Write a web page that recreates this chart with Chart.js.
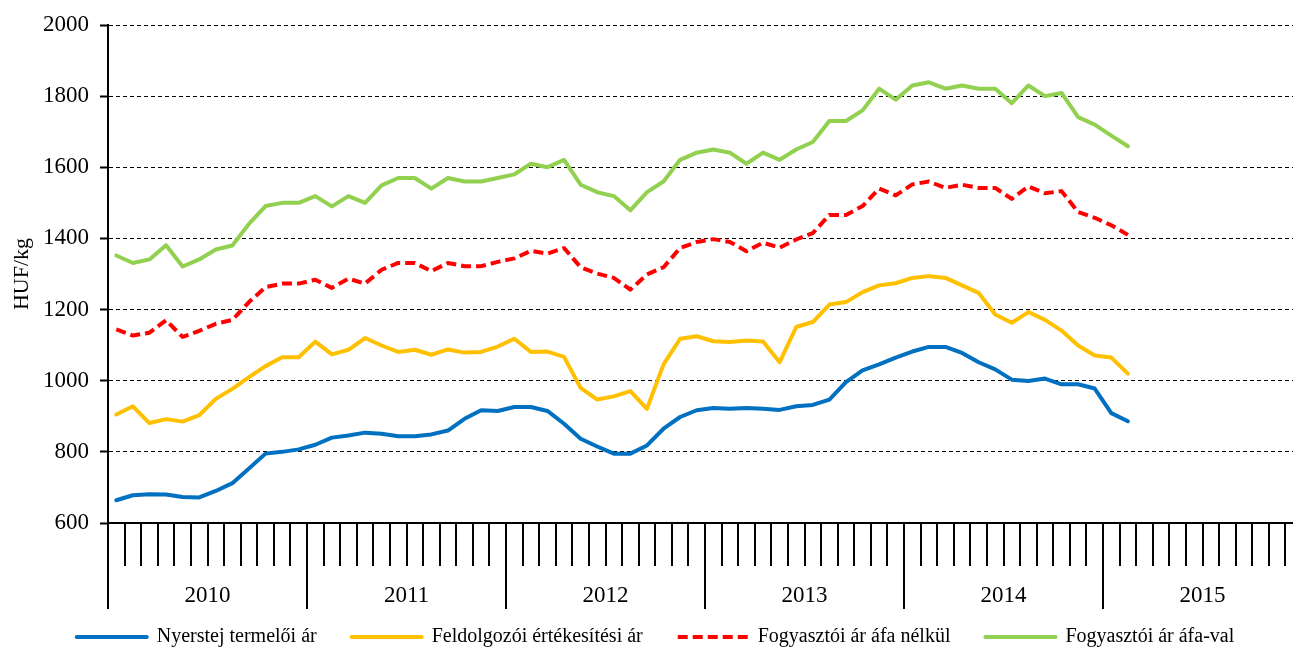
<!DOCTYPE html>
<html>
<head>
<meta charset="utf-8">
<script src="https://cdn.jsdelivr.net/npm/chart.js@4/dist/chart.umd.min.js"></script>
<style>
  html, body { margin: 0; padding: 0; overflow: hidden; background: #fff; }
  canvas { display: block; }
</style>
</head>
<body>
<canvas id="chart" width="1310" height="653"></canvas>
<script>
// Tej árak 2010–2015, havi adatok (HUF/kg)
const years = ['2010', '2011', '2012', '2013', '2014', '2015'];
const monthNames = ['jan', 'feb', 'márc', 'ápr', 'máj', 'jún', 'júl', 'aug', 'szept', 'okt', 'nov', 'dec'];
const months = years.flatMap(y => monthNames.map(m => y + ' ' + m));

const nyerstej = [664, 678, 681, 680, 673, 672, 690, 712, 753, 795, 800, 807,
  820, 840, 846, 854, 851, 844, 844, 849, 860, 893, 917, 915,
  926, 926, 915, 879, 837, 815, 795, 795, 818, 865, 898, 917,
  923, 921, 923, 921, 918, 928, 932, 947, 996, 1029, 1046, 1065,
  1082, 1095, 1095, 1078, 1052, 1032, 1003, 999, 1006, 990, 990, 978,
  909, 886];
const feldolgozoi = [905, 928, 881, 892, 885, 903, 949, 977, 1010, 1041, 1066, 1066,
  1110, 1074, 1087, 1120, 1099, 1081, 1087, 1073, 1088, 1079, 1081, 1096,
  1118, 1081, 1082, 1067, 980, 947, 956, 971, 921, 1046, 1118, 1125,
  1111, 1109, 1113, 1110, 1052, 1151, 1165, 1214, 1221, 1249, 1268, 1274,
  1289, 1294, 1289, 1268, 1247, 1186, 1163, 1193, 1171, 1141, 1099, 1071,
  1065, 1020];
const afaNelkul = [1144, 1127, 1135, 1170, 1123, 1140, 1160, 1171, 1221, 1263, 1273, 1273,
  1284, 1261, 1287, 1273, 1312, 1331, 1331, 1308, 1331, 1322, 1322, 1334,
  1344, 1365, 1357, 1373, 1319, 1301, 1289, 1256, 1299, 1319, 1373, 1390,
  1398, 1390, 1364, 1388, 1374, 1397, 1415, 1466, 1466, 1491, 1540, 1521,
  1552, 1560, 1542, 1551, 1542, 1542, 1511, 1546, 1527, 1533, 1474, 1458,
  1437, 1410];
const afaval = [1352, 1331, 1341, 1381, 1321, 1341, 1369, 1380, 1441, 1491, 1500, 1500,
  1519, 1490, 1519, 1500, 1549, 1570, 1570, 1540, 1570, 1560, 1560, 1570,
  1580, 1610, 1600, 1621, 1551, 1530, 1519, 1479, 1530, 1560, 1621, 1641,
  1650, 1641, 1610, 1641, 1621, 1650, 1671, 1730, 1730, 1760, 1821, 1790,
  1830, 1839, 1821, 1830, 1821, 1821, 1780, 1830, 1800, 1809, 1741, 1720,
  1689, 1659];

const FONT = "'Liberation Serif', 'Times New Roman', serif";

function vonal(label, data, color, dash) {
  return {
    label, data,
    borderColor: color, backgroundColor: color,
    borderWidth: 4, pointRadius: 0, tension: 0,
    borderDash: dash || [],
    borderCapStyle: dash ? 'butt' : 'round',
    borderJoinStyle: 'round'
  };
}

new Chart(document.getElementById('chart'), {
  type: 'line',
  data: {
    labels: months,
    datasets: [
      vonal('Nyerstej termelői ár', nyerstej, '#0070C0'),
      vonal('Feldolgozói értékesítési ár', feldolgozoi, '#FFC000'),
      vonal('Fogyasztói ár áfa nélkül', afaNelkul, '#FF0000', [10, 5]),
      vonal('Fogyasztói ár áfa-val', afaval, '#92D050')
    ]
  },
  options: {
    responsive: false,
    animation: false,
    layout: { padding: { left: 9, right: 8, top: 25, bottom: 0 } },
    plugins: {
      tooltip: { enabled: false },
      legend: {
        position: 'bottom',
        maxHeight: 61,
        labels: {
          usePointStyle: true,
          pointStyleWidth: 70,
          padding: 35,
          color: '#000',
          font: { family: FONT, size: 20 },
          generateLabels: (chart) => chart.data.datasets.map((ds, i) => ({
            text: ds.label,
            strokeStyle: ds.borderColor,
            fillStyle: ds.borderColor,
            lineWidth: 4,
            lineDash: ds.borderDash,
            lineCap: ds.borderDash.length ? 'butt' : 'round',
            pointStyle: 'line',
            fontColor: '#000',
            hidden: false,
            datasetIndex: i
          }))
        }
      }
    },
    scales: {
      x: {
        type: 'category',
        position: 'bottom',
        weight: 0,
        offset: true,
        ticks: { display: false },
        grid: { offset: true, drawOnChartArea: false, tickLength: 43, color: '#000', lineWidth: 2 },
        border: { display: true, color: '#000', width: 2 },
        afterFit: (s) => { s.height = 43; }
      },
      x2: {
        type: 'category',
        position: 'bottom',
        weight: 1,
        labels: years,
        offset: true,
        ticks: { color: '#000', font: { family: FONT, size: 23 }, padding: -27, maxRotation: 0, autoSkip: false },
        grid: { offset: true, drawOnChartArea: false, tickLength: 43, color: '#000', lineWidth: 2 },
        border: { display: false },
        afterFit: (s) => {
          s.height = 26;
          // az évszámok a legenda sávjába lógnak, ne vágja le
          s._computeLabelArea = () => undefined;
        }
      },
      y: {
        min: 600,
        max: 2000,
        ticks: { stepSize: 200, color: '#000', font: { family: FONT, size: 23 }, padding: 11, callback: v => String(v) },
        grid: { color: '#000', lineWidth: 1, tickLength: 8, tickColor: '#000', tickWidth: 2 },
        border: { display: true, color: '#000', width: 2, dash: [4, 3] },
        title: { display: true, text: 'HUF/kg', color: '#000', font: { family: FONT, size: 22 }, padding: 0 },
        afterFit: (s) => { s.width = 99; }
      }
    }
  }
});
</script>
</body>
</html>
